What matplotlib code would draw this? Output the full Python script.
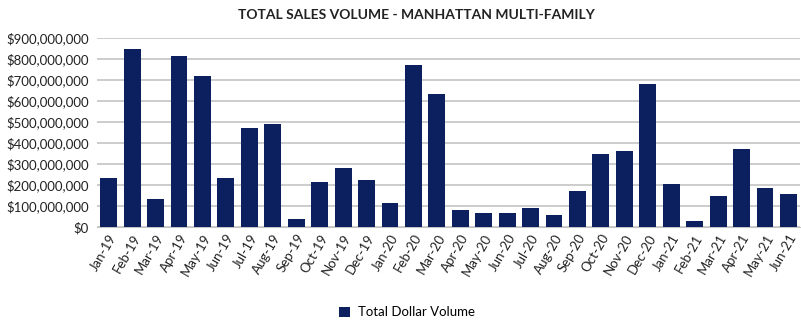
import matplotlib.pyplot as plt
from matplotlib.ticker import FuncFormatter, MultipleLocator

plt.rcParams['font.family'] = ['Lato', 'DejaVu Sans']

months = ['Jan-19', 'Feb-19', 'Mar-19', 'Apr-19', 'May-19', 'Jun-19',
          'Jul-19', 'Aug-19', 'Sep-19', 'Oct-19', 'Nov-19', 'Dec-19',
          'Jan-20', 'Feb-20', 'Mar-20', 'Apr-20', 'May-20', 'Jun-20',
          'Jul-20', 'Aug-20', 'Sep-20', 'Oct-20', 'Nov-20', 'Dec-20',
          'Jan-21', 'Feb-21', 'Mar-21', 'Apr-21', 'May-21', 'Jun-21']

# total dollar volume, millions of dollars
volume_m = [233, 849, 135, 813, 717, 232, 473, 489, 38, 217, 281, 224,
            117, 770, 635, 83, 65, 68, 90, 56, 170, 348, 360, 683,
            206, 29, 146, 373, 184, 159]

navy = '#0c1f5e'

fig = plt.figure(figsize=(8.01, 3.36), dpi=100)
ax = fig.add_axes([0.121, 0.324, 0.878, 0.563])

x = range(len(months))
ax.bar(x, [v * 1e6 for v in volume_m], width=0.72, color=navy,
       label='Total Dollar Volume', zorder=3)

ax.set_xlim(-0.5, len(months) - 0.5)
ax.set_ylim(0, 900e6)
ax.yaxis.set_major_locator(MultipleLocator(100e6))
ax.yaxis.set_major_formatter(FuncFormatter(lambda v, p: '${:,.0f}'.format(v)))
ax.grid(axis='y', color='#c4c4c4', linewidth=1.2, zorder=0)

for s in ['top', 'right', 'left']:
    ax.spines[s].set_visible(False)
ax.spines['bottom'].set_color('#c4c4c4')
ax.tick_params(axis='both', length=0, labelsize=9.5, colors='#222222')
ax.tick_params(axis='y', pad=6)

ax.set_xticks(list(x))
ax.set_xticklabels(months, rotation=60, ha='right', rotation_mode='anchor',
                   fontsize=9.5)

fig.text(0.52, 0.955, 'TOTAL SALES VOLUME - MANHATTAN MULTI-FAMILY',
         ha='center', va='center', fontsize=10, fontweight='bold',
         color='#222222')

fig.legend(loc='center', bbox_to_anchor=(0.508, 0.07), frameon=False,
           fontsize=9.5, handlelength=0.8, handleheight=0.8,
           handletextpad=0.6)

fig.savefig('out.png', dpi=100)
